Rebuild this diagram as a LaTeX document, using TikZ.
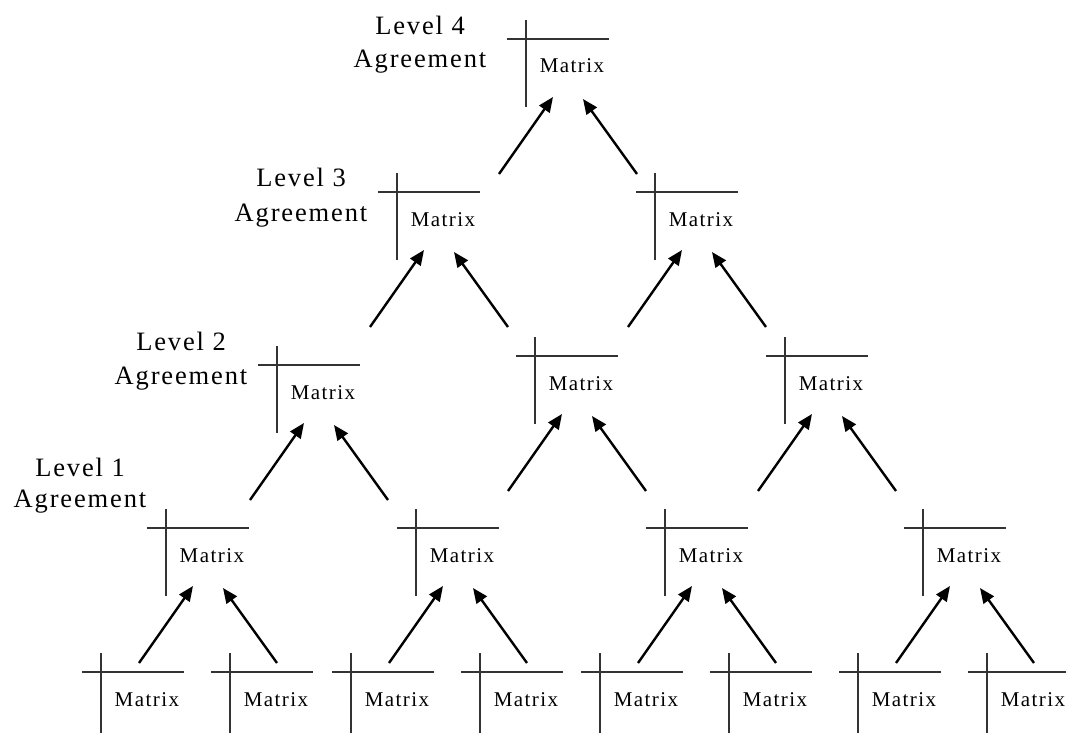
\documentclass[tikz,border=0pt]{standalone}
\usepackage{fontspec}
\setmainfont{Liberation Serif}
\newfontfamily\matfont[LetterSpace=7]{Liberation Serif}
\usetikzlibrary{arrows.meta}
\tikzset{
  mat/.style={inner sep=0pt, anchor=base, font=\matfont\fontsize{21}{24}\selectfont},
  lvl/.style={inner sep=0pt, anchor=base, font=\matfont\fontsize{26.5}{30}\selectfont},
  rule/.style={draw=black!80, line width=1.3pt},
  arr/.style={draw=black, line width=2.4pt, -{Triangle[length=15pt,width=12.5pt]}}
}
\newcommand{\matnode}[3]{%
  \node[mat] (#1) at ({#2+46},{#3+34}) {Matrix};
  \draw[rule] ({#2-19},#3) -- ({#2+83},#3);
  \draw[rule] (#2,{#3-19}) -- (#2,{#3+68});
  \coordinate (#1-tl) at ({#2+27},{#3+58});
  \coordinate (#1-tr) at ({#2+57},{#3+60});
  \coordinate (#1-sl) at ({#2-27},{#3+135});
  \coordinate (#1-sr) at ({#2+111},{#3+135});
}
\begin{document}
\begin{tikzpicture}[x=1pt,y=-1pt]
\useasboundingbox (0,0) rectangle (1066,733);
% level 4
\matnode{a}{526}{39}
% level 3
\matnode{b1}{397}{192}
\matnode{b2}{655}{192}
% level 2
\matnode{c1}{277}{365}
\matnode{c2}{535}{356}
\matnode{c3}{785}{356}
% level 1
\matnode{d1}{166}{528}
\matnode{d2}{416}{528}
\matnode{d3}{665}{528}
\matnode{d4}{923}{528}
% bottom
\matnode{e1}{101}{672}
\matnode{e2}{230}{672}
\matnode{e3}{351}{672}
\matnode{e4}{480}{672}
\matnode{e5}{600}{672}
\matnode{e6}{729}{672}
\matnode{e7}{858}{672}
\matnode{e8}{987}{672}
% arrows
\foreach \p in {a,b1,b2,c1,c2,c3,d1,d2,d3,d4}{
  \draw[arr] (\p-sl) -- (\p-tl);
  \draw[arr] (\p-sr) -- (\p-tr);
}
% labels
\node[lvl] (l4a) at (420,35) {Level 4};
\node[lvl] (l4b) at (420,68) {Agreement};
\node[lvl] (l3a) at (301,186) {Level 3};
\node[lvl] (l3b) at (301,222) {Agreement};
\node[lvl] (l2a) at (181,350) {Level 2};
\node[lvl] (l2b) at (181,384) {Agreement};
\node[lvl] (l1a) at (80,476) {Level 1};
\node[lvl] (l1b) at (80,507) {Agreement};
\end{tikzpicture}
\end{document}
